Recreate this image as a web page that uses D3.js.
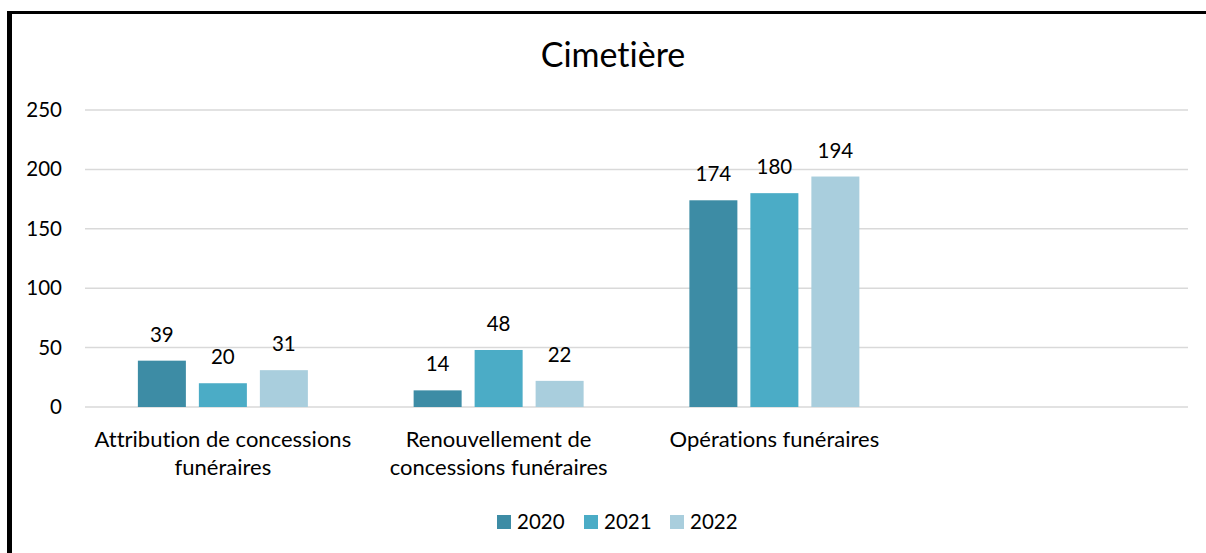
<!DOCTYPE html>
<html>
<head>
<meta charset="utf-8">
<title>Cimetière</title>
<script src="https://d3js.org/d3.v7.min.js"></script>
<style>
  body { margin: 0; background: #fff; font-family: Lato, "Open Sans", sans-serif; }
  svg text { fill: #000; font-variant-ligatures: none; font-feature-settings: "liga" 0; }
</style>
</head>
<body>
<svg id="chart"></svg>
<script>
// data
var categories = ["Attribution de concessions funéraires", "Renouvellement de concessions funéraires", "Opérations funéraires", ""];
var catLines = [["Attribution de concessions", "funéraires"], ["Renouvellement de", "concessions funéraires"], ["Opérations funéraires"], []];
var years = ["2020", "2021", "2022"];
var values2020 = [39, 14, 174];
var values2021 = [20, 48, 180];
var values2022 = [31, 22, 194];
var yTicks = [0, 50, 100, 150, 200, 250];
var colors = ["#3d8ca5", "#4bacc6", "#a9cedd"];

var W = 1206, H = 553;
var series = [values2020, values2021, values2022];
var numSize = "20.5px", labSize = "22px";

var svg = d3.select("#chart").attr("width", W).attr("height", H);

// frame (only top and left show in the crop)
svg.append("rect").attr("x", 0).attr("y", 0).attr("width", W).attr("height", H).attr("fill", "#fff");
svg.append("rect").attr("x", 7).attr("y", 11).attr("width", 5).attr("height", H - 11).attr("fill", "#000");
svg.append("rect").attr("x", 7).attr("y", 11).attr("width", W - 7).attr("height", 3).attr("fill", "#000");

// title
svg.append("text")
  .attr("x", 613).attr("y", 67)
  .attr("text-anchor", "middle")
  .style("font-size", "34px")
  .text("Cimetière");

var plotL = 85, plotR = 1188, plotT = 110, plotB = 407;

var x0 = d3.scaleBand().domain(categories.map(function(d, i) { return i; })).range([plotL, plotR]).padding(0);
var x1 = d3.scaleBand().domain(years).range([0, 170]).paddingInner(0.213).paddingOuter(0);
var y = d3.scaleLinear().domain([0, 250]).range([plotB, plotT]);

// gridlines
svg.append("g").selectAll("line").data(yTicks).enter().append("line")
  .attr("x1", plotL).attr("x2", plotR)
  .attr("y1", function(d) { return y(d); }).attr("y2", function(d) { return y(d); })
  .attr("stroke", "#d9d9d9").attr("stroke-width", 1.5);

// y axis labels
var yAxis = svg.append("g").attr("transform", "translate(" + 62 + ",0)")
  .call(d3.axisLeft(y).tickValues(yTicks).tickSize(0).tickPadding(0));
yAxis.select(".domain").remove();
yAxis.selectAll("text").style("font-size", numSize).style("font-family", "Lato, sans-serif").attr("fill", "#000");

// bars
var groups = svg.append("g").selectAll("g").data([0, 1, 2]).enter().append("g")
  .attr("transform", function(i) {
    return "translate(" + (x0(i) + x0.bandwidth() / 2 - 85) + ",0)";
  });

function rows(i) {
  return years.map(function(yr, s) { return { year: yr, value: series[s][i], s: s }; });
}

groups.selectAll("rect").data(rows).enter().append("rect")
  .attr("x", function(d) { return x1(d.year); })
  .attr("y", function(d) { return y(d.value); })
  .attr("width", x1.bandwidth())
  .attr("height", function(d) { return plotB - y(d.value); })
  .attr("fill", function(d) { return colors[d.s]; });

groups.selectAll("text").data(rows).enter().append("text")
  .attr("x", function(d) { return x1(d.year) + x1.bandwidth() / 2; })
  .attr("y", function(d) { return y(d.value) - 19; })
  .attr("text-anchor", "middle")
  .style("font-size", numSize)
  .text(function(d) { return d.value; });

// category labels
var cl = svg.append("g").selectAll("text").data(catLines).enter().append("text")
  .attr("x", function(d, i) { return x0(i) + x0.bandwidth() / 2; })
  .attr("y", 447)
  .attr("text-anchor", "middle")
  .style("font-size", labSize);
cl.selectAll("tspan").data(function(d) { return d; }).enter().append("tspan")
  .attr("x", function() { return d3.select(this.parentNode).attr("x"); })
  .attr("dy", function(d, j) { return j === 0 ? 0 : 28; })
  .text(function(d) { return d; });

// legend
var legX = [497, 584, 670];
var leg = svg.append("g").selectAll("g").data(years).enter().append("g")
  .attr("transform", function(d, i) { return "translate(" + legX[i] + ",515)"; });
leg.append("rect").attr("width", 14).attr("height", 14).attr("fill", function(d, i) { return colors[i]; });
leg.append("text").attr("x", 20).attr("y", 14).style("font-size", numSize).text(function(d) { return d; });
</script>
</body>
</html>
